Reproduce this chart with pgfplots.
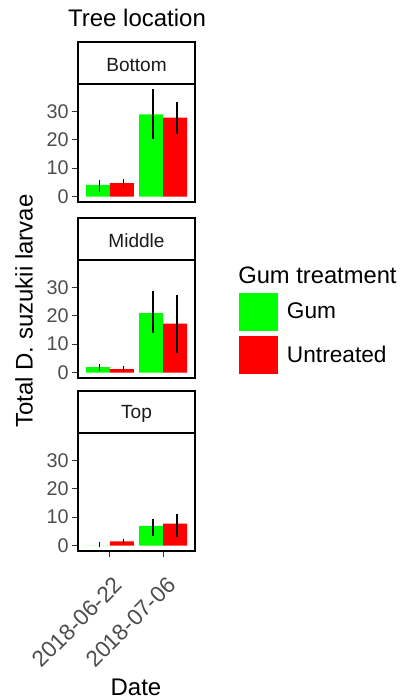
\documentclass[border=0pt]{standalone}
\usepackage{pgfplots}
\pgfplotsset{compat=1.18}
\usepackage{fontspec}
\setmainfont{Liberation Sans}
\definecolor{gumgreen}{HTML}{00FF00}
\definecolor{untred}{HTML}{FF0000}
\definecolor{grey30}{HTML}{4D4D4D}
\definecolor{grey20}{HTML}{333333}
\definecolor{grey10}{HTML}{1A1A1A}
\pgfdeclareplotmark{lcap}{\pgfpathmoveto{\pgfpoint{-\pgfplotmarksize}{0pt}}\pgfpathlineto{\pgfpoint{0pt}{0pt}}\pgfusepathqstroke}
\pgfplotsset{
  facet/.style={
    scale only axis, width=87.75pt, height=88.5pt,
    xmin=0.4, xmax=2.6, ymin=-1.9, ymax=39.6,
    axis line style={line width=1pt, black},
    ytick={0,10,20,30},
    tick pos=left,
    tick align=outside,
    major tick length=4.6pt,
    tick style={grey20, line width=0.8pt},
    yticklabel style={font=\fontsize{14.85}{16}\selectfont, text=grey30, inner sep=0pt, xshift=-2.2pt},
    /pgf/number format/assume math mode=true,
    clip=false,
    enlargelimits=false,
  },
  gumbar/.style={ybar, bar width=0.45, bar shift=-0.225, fill=gumgreen, draw=none,
    legend image code/.code={\fill[gumgreen] (0pt,-14.25pt) rectangle (29.25pt,14.25pt);},
    error bars/.cd, y dir=both, y explicit,
    error bar style={line width=0.9pt, black, xshift=-7.6pt},
    error mark=lcap, error mark options={mark size=2.6pt, line width=0.9pt, black}},
  untbar/.style={ybar, bar width=0.45, bar shift=0.225, fill=untred, draw=none,
    legend image code/.code={\fill[untred] (0pt,-14.25pt) rectangle (29.25pt,14.25pt);},
    error bars/.cd, y dir=both, y explicit,
    error bar style={line width=0.9pt, black, xshift=10.4pt},
    error mark=lcap, error mark options={mark size=2.6pt, line width=0.9pt, black}},
}
\newcommand{\strip}[1]{%
  \draw[line width=1.1pt, fill=white] (rel axis cs:0,1) rectangle (rel axis cs:1,1.356);
  \node[font=\fontsize{14.3}{16}\selectfont, text=grey10] at (rel axis cs:0.5,1.16) {#1};}
\begin{document}
\begin{tikzpicture}
\useasboundingbox (0pt,0pt) rectangle (300.75pt,525pt);
% Bottom facet
\begin{axis}[facet, at={(58.5pt,373.5pt)}, xtick=\empty]
\addplot[gumbar] coordinates {(1,4.1) += (0,0.95) -= (0,2.0) (2,28.9) += (0,8.5) -= (0,8.0)};
\addplot[untbar] coordinates {(1,4.7) += (0,0.95) -= (0,1.2) (2,27.8) += (0,4.9) -= (0,5.1)};
\strip{Bottom}
\end{axis}
% Middle facet
\begin{axis}[facet, at={(58.5pt,241.5pt)}, xtick=\empty,
  legend style={at={(axis description cs:1.376,0.720)}, anchor=north west, draw=none, fill=none,
    inner sep=0pt, outer sep=0pt, row sep=3.75pt, column sep=6.75pt,
    font=\fontsize{17}{20}\selectfont, nodes={inner sep=0pt}},
  legend cell align=left]
\addplot[gumbar] coordinates {(1,1.9) += (0,0.6) -= (0,0.7) (2,20.9) += (0,7.3) -= (0,6.4)};
\addlegendentry{Gum}
\addplot[untbar] coordinates {(1,1.2) += (0,0.6) -= (0,0.3) (2,17.2) += (0,9.6) -= (0,9.8)};
\addlegendentry{Untreated}
\strip{Middle}
\node[anchor=west, font=\fontsize{17.8}{20}\selectfont, inner sep=0pt] at (axis description cs:1.368,0.873) {Gum treatment};
\end{axis}
% Top facet
\begin{axis}[facet, at={(58.5pt,111.75pt)}, xtick={1,2}, xticklabels={2018-06-22,2018-07-06},
  xticklabel style={font=\fontsize{17}{19}\selectfont, text=grey30, inner sep=0pt, xshift=6.5pt, yshift=-18pt, rotate=45, anchor=east}]
\addplot[gumbar] coordinates {(1,0) += (0,0.5) -= (0,0) (2,6.9) += (0,2.0) -= (0,3.0)};
\addplot[untbar] coordinates {(1,1.5) += (0,0.2) -= (0,0.3) (2,7.7) += (0,2.7) -= (0,3.9)};
\strip{Top}
\end{axis}
\node[font=\fontsize{18}{20}\selectfont] at (102.75pt,511.9pt) {Tree location};
\node[font=\fontsize{18}{20}\selectfont, rotate=90] at (18pt,291.75pt) {Total D. suzukii larvae};
\node[font=\fontsize{18}{20}\selectfont] at (102pt,9.75pt) {Date};
\end{tikzpicture}
\end{document}
